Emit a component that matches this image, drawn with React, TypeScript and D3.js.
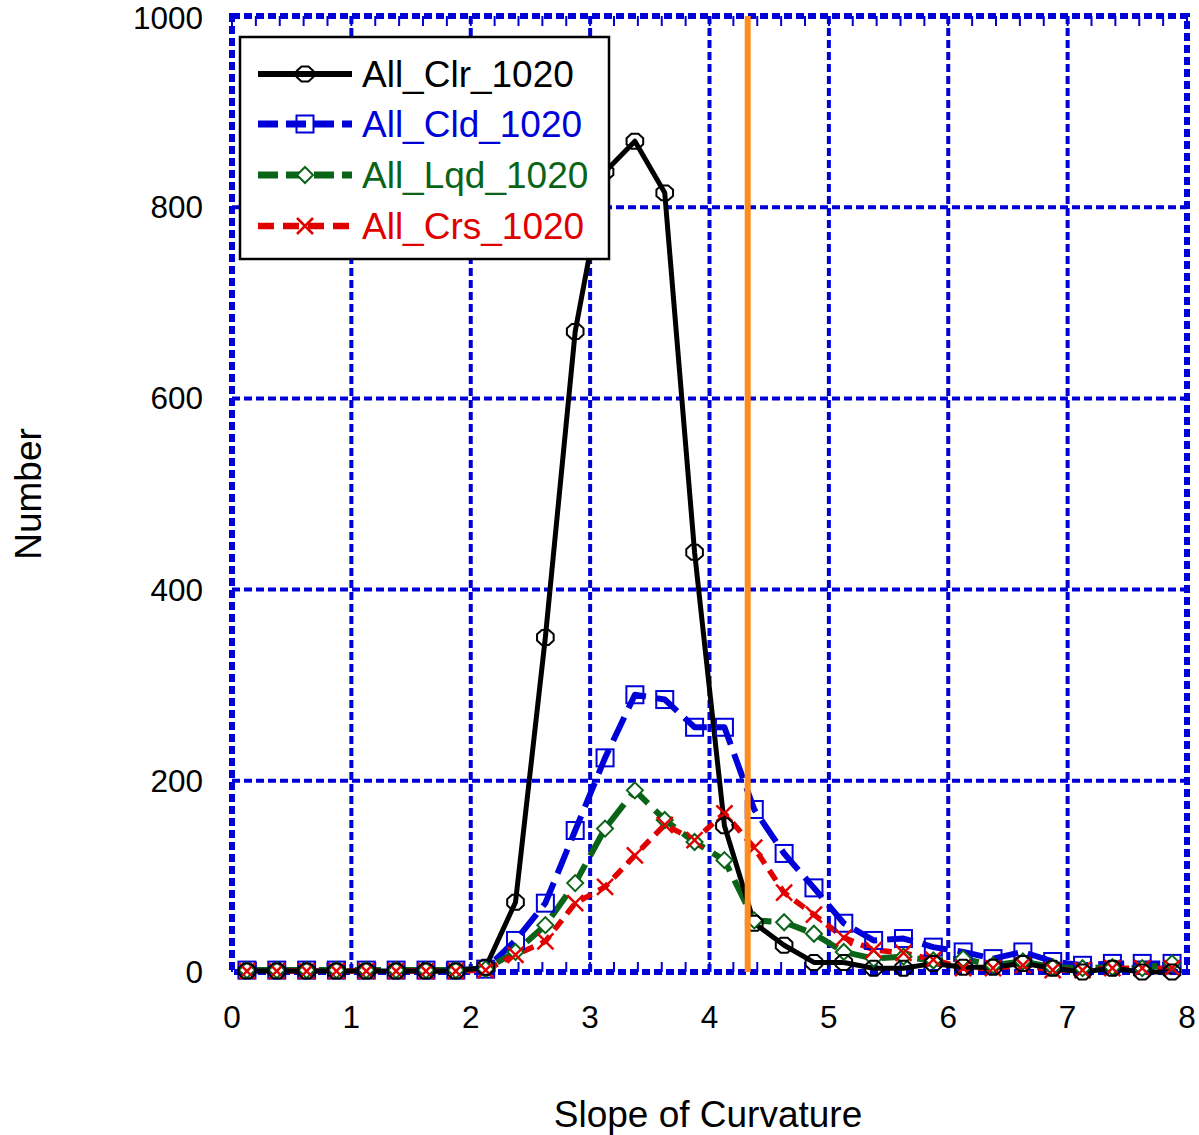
import React from "react";
import * as d3 from "d3";

const xValues = [0.125,0.375,0.625,0.875,1.125,1.375,1.625,1.875,2.125,2.375,2.625,2.875,3.125,3.375,3.625,3.875,4.125,4.375,4.625,4.875,5.125,5.375,5.625,5.875,6.125,6.375,6.625,6.875,7.125,7.375,7.625,7.875];
const clr = [1,1,1,1,1,1,1,1,5,73,350,670,837,869,815,439,153,51,28,10,10,4,4,9,5,5,9,4,0,4,0,0];
const cld = [2,2,2,2,2,2,2,2,3,33,72,148,224,290,285,256,256,170,124,88,51,33,35,26,21,14,21,11,7,9,9,9];
const lqd = [2,2,2,2,2,2,2,2,3,21,49,93,150,190,159,136,117,54,52,40,21,14,16,12,14,7,11,5,4,5,4,9];
const crs = [1,1,1,1,1,1,1,1,2,18,32,72,89,122,154,138,166,130,83,60,36,23,20,13,4,4,7,2,2,4,4,4];
const xTicks = [0,1,2,3,4,5,6,7,8];
const yTicks = [0,200,400,600,800,1000];
const seriesNames = ["All_Clr_1020","All_Cld_1020","All_Lqd_1020","All_Crs_1020"];
const threshold = 4.32;

const W = 1199, H = 1135;
const L = 232, R = 1187, T = 16, B = 972;
const GRID = "#0000d8";

type S = { name: string; values: number[]; color: string; dash: string; width: number; marker: string };

const series: S[] = [
  { name: seriesNames[0], values: clr, color: "#000000", dash: "", width: 5, marker: "hex" },
  { name: seriesNames[1], values: cld, color: "#0000d8", dash: "26,10", width: 6, marker: "square" },
  { name: seriesNames[2], values: lqd, color: "#0a6418", dash: "26,10", width: 6, marker: "diamond" },
  { name: seriesNames[3], values: crs, color: "#e00000", dash: "12,8", width: 5.5, marker: "x" },
];

function Marker({ type, x, y, color }: { type: string; x: number; y: number; color: string }) {
  if (type === "hex") {
    const r = 9;
    const pts = d3.range(8).map((i) => {
      const a = (Math.PI / 4) * i + Math.PI / 8;
      return [x + r * Math.cos(a), y + r * 0.9 * Math.sin(a)];
    });
    return <polygon points={pts.map((p) => p.join(",")).join(" ")} fill="none" stroke={color} strokeWidth={2} />;
  }
  if (type === "square") {
    const s = 17;
    return <rect x={x - s / 2} y={y - s / 2} width={s} height={s} fill="none" stroke={color} strokeWidth={2} />;
  }
  if (type === "diamond") {
    const r = 8;
    return <polygon points={`${x},${y - r} ${x + r},${y} ${x},${y + r} ${x - r},${y}`} fill="white" stroke={color} strokeWidth={2} />;
  }
  const r = 8;
  return (
    <g stroke={color} strokeWidth={2.5}>
      <line x1={x - r} y1={y - r} x2={x + r} y2={y + r} />
      <line x1={x - r} y1={y + r} x2={x + r} y2={y - r} />
    </g>
  );
}

export default function App() {
  const x = d3.scaleLinear().domain([0, 8]).range([L, R]);
  const y = d3.scaleLinear().domain([0, 1000]).range([B, T]);
  const line = d3.line<number>().x((_, i) => x(xValues[i])).y((d) => y(d));
  const minorX = d3.range(0, 8.0001, 0.2);
  const font = "Liberation Sans, Arial, sans-serif";

  const legendX = 240, legendY = 37, legendW = 369, legendH = 222;
  const rowY = [74, 124, 175, 226];
  const drawOrder = [series[1], series[2], series[3], series[0]];

  return (
    <svg width={W} height={H} style={{ display: "block", position: "absolute", left: 0, top: 0 }} fontFamily={font}>
      <rect width={W} height={H} fill="white" />
      {/* grid */}
      {xTicks.slice(1, -1).map((t) => (
        <line key={"gx" + t} x1={x(t)} x2={x(t)} y1={T} y2={B} stroke={GRID} strokeWidth={4} strokeDasharray="8,4" />
      ))}
      {yTicks.slice(1, -1).map((t) => (
        <line key={"gy" + t} x1={L} x2={R} y1={y(t)} y2={y(t)} stroke={GRID} strokeWidth={4} strokeDasharray="8,4" />
      ))}
      {minorX.map((t, i) => (
        <g key={"mt" + i}>
          <line x1={x(t)} x2={x(t)} y1={T} y2={T + 10} stroke={GRID} strokeWidth={2} />
          <line x1={x(t)} x2={x(t)} y1={B} y2={B - 10} stroke={GRID} strokeWidth={2} />
        </g>
      ))}
      {/* border */}
      <rect x={L} y={T} width={R - L} height={B - T} fill="none" stroke={GRID} strokeWidth={6} strokeDasharray="8,4" />

      {/* series lines */}
      {drawOrder.map((s) => (
        <path key={s.name} d={line(s.values) || ""} fill="none" stroke={s.color} strokeWidth={s.width} strokeDasharray={s.dash} strokeLinejoin="round" />
      ))}
      {drawOrder.map((s) => (
        <g key={s.name + "m"}>
          {s.values.map((v, i) => (
            <Marker key={i} type={s.marker} x={x(xValues[i])} y={y(v)} color={s.color} />
          ))}
        </g>
      ))}

      {/* threshold */}
      <line x1={x(threshold)} x2={x(threshold)} y1={T} y2={B} stroke="#ff8c1e" strokeWidth={6} />

      {/* tick labels */}
      {yTicks.map((t) => (
        <text key={"yl" + t} x={203} y={Math.max(y(t), 18)} dy="0.35em" textAnchor="end" fontSize={31.5} fill="#000">{t}</text>
      ))}
      {xTicks.map((t) => (
        <text key={"xl" + t} x={x(t)} y={1017} dy="0.35em" textAnchor="middle" fontSize={31.5} fill="#000">{t}</text>
      ))}
      <text x={708} y={1114} dy="0.35em" textAnchor="middle" fontSize={37} fill="#000">Slope of Curvature</text>
      <text transform={`translate(28,494) rotate(-90)`} dy="0.35em" textAnchor="middle" fontSize={37} fill="#000">Number</text>

      {/* legend */}
      <rect x={legendX} y={legendY} width={legendW} height={legendH} fill="white" stroke="#000" strokeWidth={2.5} />
      {series.map((s, i) => (
        <g key={"lg" + s.name}>
          <line x1={258} x2={352} y1={rowY[i]} y2={rowY[i]} stroke={s.color} strokeWidth={s.width + 1} strokeDasharray={s.dash === "" ? "" : i === 3 ? "16,9" : "20,8"} />
          <Marker type={s.marker} x={305} y={rowY[i]} color={s.color} />
          <text x={362} y={rowY[i]} dy="0.35em" fontSize={37} fill={s.color}>{s.name}</text>
        </g>
      ))}
    </svg>
  );
}
